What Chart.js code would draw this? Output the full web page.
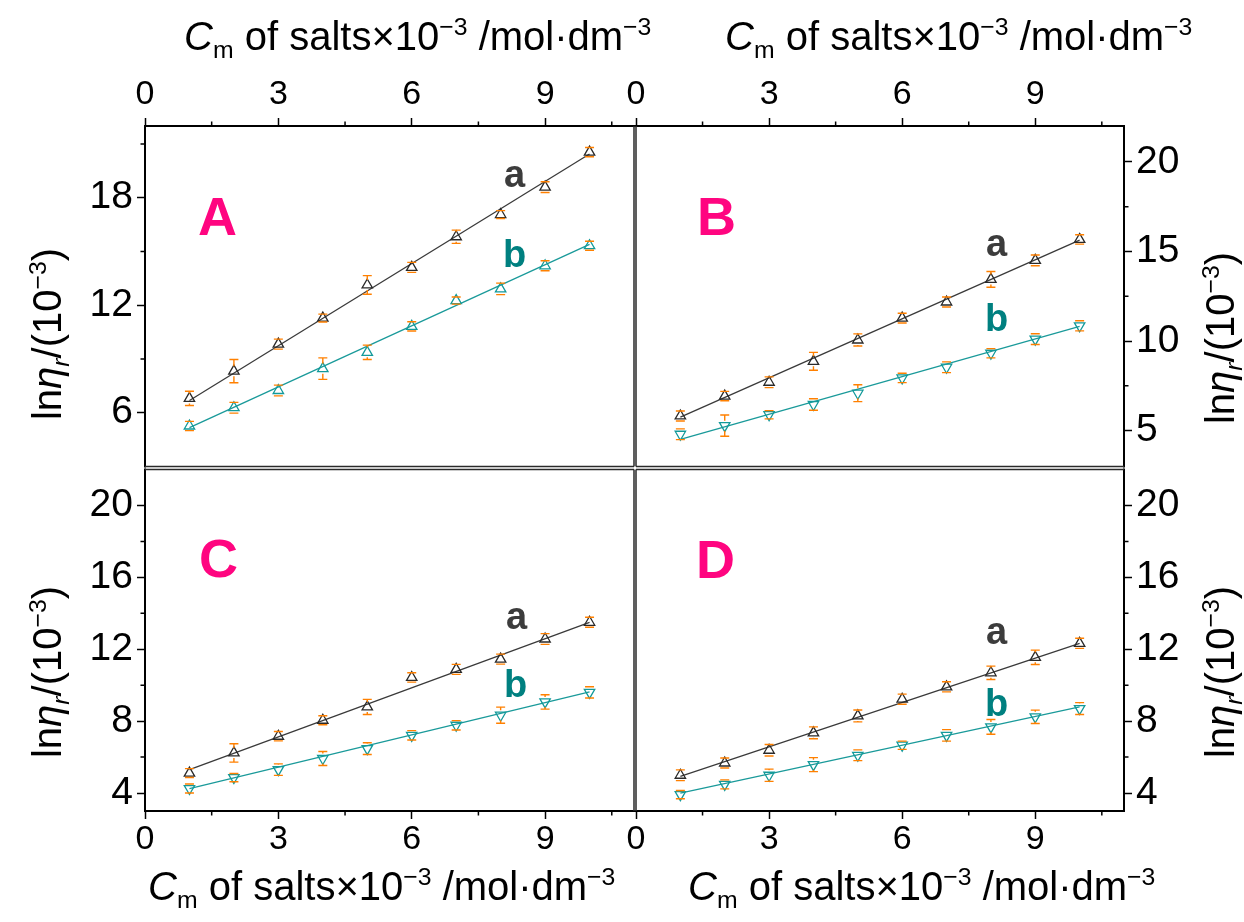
<!DOCTYPE html>
<html>
<head>
<meta charset="utf-8">
<title>ln ηr vs Cm of salts</title>
<script src="https://cdn.jsdelivr.net/npm/chart.js@4.4.1/dist/chart.umd.min.js"></script>
<style>
  body { margin: 0; background: #fff; }
  #wrap { position: relative; width: 1244px; height: 922px; overflow: hidden; font-family: "Liberation Sans", Arial, sans-serif; }
  #wrap canvas { position: absolute; left: 0; top: 0; }
  .txt { position: absolute; white-space: nowrap; line-height: 1; color: #000; }
  .sup { position: relative; font-size: 0.62em; top: -0.62em; }
  .sub { position: relative; font-size: 0.62em; top: 0.32em; }
  .vert { transform: translate(-50%, -50%) rotate(-90deg); }
  .panel { font-weight: bold; color: #ff0580; }
  .sa { font-weight: bold; color: #3c3c3c; }
  .sb { font-weight: bold; color: #008080; }
</style>
</head>
<body>
<div id="wrap"></div>
<script>
const W = 1244, H = 922;
const FONT = '"Liberation Sans", Arial, sans-serif';

// concentration of salts (x 10^-3 mol/dm3)
const conc = [1, 2, 3, 4, 5, 6, 7, 8, 9, 10];
const fitX = [1, 10];

const xTicks = [0, 3, 6, 9];
const xMinor = [1.5, 4.5, 7.5, 10.5];
const yTicksA = [6, 12, 18];
const yMinorA = [9, 15, 21];
const yTicksB = [5, 10, 15, 20];
const yMinorB = [7.5, 12.5, 17.5];
const yTicksCD = [4, 8, 12, 16, 20];
const yMinorCD = [6, 10, 14, 18];

// panel A
const aA = [6.8, 8.32, 9.83, 11.28, 13.13, 14.11, 15.82, 17.06, 18.59, 20.54];
const aAErr = [0.4, 0.65, 0.28, 0.22, 0.52, 0.28, 0.37, 0.22, 0.3, 0.26];
const bA = [5.26, 6.28, 7.24, 8.46, 9.37, 10.82, 12.26, 12.91, 14.2, 15.32];
const bAErr = [0.26, 0.3, 0.3, 0.6, 0.4, 0.26, 0.2, 0.32, 0.28, 0.25];
const fitAa = [6.68, 20.44];
const fitAb = [5.17, 15.39];

// panel B
const aB = [5.82, 6.93, 7.7, 8.87, 10.06, 11.28, 12.18, 13.44, 14.5, 15.67];
const aBErr = [0.28, 0.26, 0.3, 0.5, 0.34, 0.27, 0.28, 0.44, 0.3, 0.26];
const bB = [4.8, 5.28, 5.89, 6.46, 7.09, 7.94, 8.54, 9.32, 10.11, 10.85];
const bBErr = [0.3, 0.59, 0.23, 0.32, 0.47, 0.26, 0.3, 0.26, 0.3, 0.28];
const fitBa = [5.76, 15.63];
const fitBb = [4.52, 10.82];

// panel C
const aC = [5.11, 6.23, 7.16, 8.05, 8.79, 10.43, 10.88, 11.45, 12.57, 13.5];
const aCErr = [0.25, 0.51, 0.26, 0.25, 0.42, 0.26, 0.28, 0.28, 0.3, 0.28];
const bC = [4.25, 4.86, 5.3, 5.92, 6.47, 7.21, 7.77, 8.33, 9.07, 9.6];
const bCErr = [0.25, 0.23, 0.32, 0.39, 0.33, 0.26, 0.26, 0.45, 0.4, 0.31];
const fitCa = [5.3, 13.5];
const fitCb = [4.25, 9.63];

// panel D
const aD = [4.99, 5.67, 6.38, 7.35, 8.29, 9.22, 9.91, 10.69, 11.55, 12.33];
const aDErr = [0.3, 0.28, 0.32, 0.33, 0.33, 0.28, 0.28, 0.37, 0.4, 0.28];
const bD = [3.91, 4.48, 4.99, 5.58, 6.1, 6.66, 7.21, 7.68, 8.24, 8.7];
const bDErr = [0.23, 0.25, 0.34, 0.39, 0.3, 0.23, 0.32, 0.41, 0.37, 0.33];
const fitDa = [4.93, 12.33];
const fitDb = [4.0, 8.79];

const LINE_A = '#3a3a3a', MARK_A = '#2a2a2a';
const LINE_B = '#1a9a9a', MARK_B = '#139a9a';
const ERR = '#ff8000';

const panels = [
  { area: { left: 145, top: 126, right: 634, bottom: 466.5 }, xPos: 'top', yPos: 'left',
    a: aA, aErr: aAErr, b: bA, bErr: bAErr, fa: fitAa, fb: fitAb, bDown: false, yTicks: yTicksA, yMinor: yMinorA },
  { area: { left: 636, top: 126, right: 1124, bottom: 466.5 }, xPos: 'top', yPos: 'right',
    a: aB, aErr: aBErr, b: bB, bErr: bBErr, fa: fitBa, fb: fitBb, bDown: true, yTicks: yTicksB, yMinor: yMinorB },
  { area: { left: 145, top: 469.5, right: 634, bottom: 811 }, xPos: 'bottom', yPos: 'left',
    a: aC, aErr: aCErr, b: bC, bErr: bCErr, fa: fitCa, fb: fitCb, bDown: true, yTicks: yTicksCD, yMinor: yMinorCD },
  { area: { left: 636, top: 469.5, right: 1124, bottom: 811 }, xPos: 'bottom', yPos: 'right',
    a: aD, aErr: aDErr, b: bD, bErr: bDErr, fa: fitDa, fb: fitDb, bDown: true, yTicks: yTicksCD, yMinor: yMinorCD }
];

// error bars, minor ticks and the panel frame
const decoPlugin = {
  id: 'deco',
  afterDatasetsDraw(chart) {
    const ctx = chart.ctx, ys = chart.scales.y;
    const CAP = 4.5, GAP = 5;
    chart.data.datasets.forEach((ds, i) => {
      if (!ds.errors) return;
      const meta = chart.getDatasetMeta(i);
      ctx.save();
      ctx.strokeStyle = ERR;
      ctx.lineWidth = 1.4;
      meta.data.forEach((pt, j) => {
        const v = ds.data[j].y, e = ds.errors[j];
        const top = ys.getPixelForValue(v + e), bot = ys.getPixelForValue(v - e);
        ctx.beginPath();
        ctx.moveTo(pt.x - CAP, top); ctx.lineTo(pt.x + CAP, top);
        ctx.moveTo(pt.x - CAP, bot); ctx.lineTo(pt.x + CAP, bot);
        if (top < pt.y - GAP) { ctx.moveTo(pt.x, top); ctx.lineTo(pt.x, pt.y - GAP); }
        if (bot > pt.y + GAP) { ctx.moveTo(pt.x, pt.y + GAP); ctx.lineTo(pt.x, bot); }
        ctx.stroke();
      });
      ctx.restore();
    });
  },
  afterDraw(chart, args, opts) {
    const ctx = chart.ctx, a = chart.chartArea;
    const xs = chart.scales.x, ys = chart.scales.y;
    const M = 4.5;
    const xEdge = opts.xPos === 'top' ? a.top : a.bottom;
    const yEdge = opts.yPos === 'left' ? a.left : a.right;
    ctx.save();
    ctx.strokeStyle = '#000';
    ctx.lineWidth = 1.5;
    ctx.beginPath();
    opts.xMinor.forEach(v => {
      const px = xs.getPixelForValue(v);
      ctx.moveTo(px, xEdge);
      ctx.lineTo(px, opts.xPos === 'top' ? xEdge - M : xEdge + M);
    });
    opts.yMinor.forEach(v => {
      const py = ys.getPixelForValue(v);
      ctx.moveTo(yEdge, py);
      ctx.lineTo(opts.yPos === 'left' ? yEdge - M : yEdge + M, py);
    });
    ctx.stroke();

    // outer sides (with axes) heavier, inner sides lighter
    const innerX = opts.xPos === 'top' ? a.bottom : a.top;
    const innerY = opts.yPos === 'left' ? a.right : a.left;
    ctx.lineWidth = 2;
    ctx.beginPath();
    ctx.moveTo(a.left - 1, xEdge); ctx.lineTo(a.right + 1, xEdge);
    ctx.moveTo(yEdge, a.top - 1); ctx.lineTo(yEdge, a.bottom + 1);
    ctx.stroke();
    ctx.strokeStyle = '#2a2a2a';
    ctx.lineWidth = 1.5;
    ctx.beginPath();
    ctx.moveTo(a.left, innerX); ctx.lineTo(a.right, innerX);
    ctx.moveTo(innerY, a.top); ctx.lineTo(innerY, a.bottom);
    ctx.stroke();
    ctx.restore();
  }
};

const wrap = document.getElementById('wrap');

function makePanel(p) {
  const canvas = document.createElement('canvas');
  canvas.width = W;
  canvas.height = H;
  wrap.appendChild(canvas);
  const r = p.area;
  const pts = ys => conc.map((x, i) => ({ x: x, y: ys[i] }));
  const fit = ys => fitX.map((x, i) => ({ x: x, y: ys[i] }));
  const axisW = p.yPos === 'left' ? r.left : W - r.right;
  const axisH = p.xPos === 'top' ? r.top : H - r.bottom;

  new Chart(canvas, {
    type: 'scatter',
    data: {
      datasets: [
        { data: fit(p.fa), showLine: true, pointRadius: 0, borderColor: LINE_A, borderWidth: 1.3, order: 3 },
        { data: fit(p.fb), showLine: true, pointRadius: 0, borderColor: LINE_B, borderWidth: 1.3, order: 3 },
        { data: pts(p.a), errors: p.aErr, pointStyle: 'triangle', pointRadius: 6, pointBorderWidth: 1.3,
          borderColor: MARK_A, backgroundColor: 'rgba(0,0,0,0)', order: 1 },
        { data: pts(p.b), errors: p.bErr, pointStyle: 'triangle', pointRotation: p.bDown ? 180 : 0, pointRadius: 6,
          pointBorderWidth: 1.3, borderColor: MARK_B, backgroundColor: 'rgba(0,0,0,0)', order: 1 }
      ]
    },
    options: {
      responsive: false,
      animation: false,
      events: [],
      layout: {
        padding: {
          left: p.yPos === 'left' ? 0 : r.left,
          right: p.yPos === 'right' ? 0 : W - r.right,
          top: p.xPos === 'top' ? 0 : r.top,
          bottom: p.xPos === 'bottom' ? 0 : H - r.bottom
        }
      },
      plugins: {
        legend: { display: false },
        tooltip: { enabled: false },
        deco: { xMinor: xMinor, yMinor: p.yMinor, xPos: p.xPos, yPos: p.yPos }
      },
      scales: {
        x: {
          type: 'linear', position: p.xPos, min: 0, max: 11,
          afterBuildTicks: s => { s.ticks = xTicks.map(v => ({ value: v })); },
          afterFit: s => { s.height = axisH; },
          grid: { drawOnChartArea: false, tickLength: 8, tickWidth: 1.5, tickColor: '#000' },
          border: { display: false },
          ticks: { color: '#000', font: { family: FONT, size: 34, lineHeight: 1 },
                   padding: p.xPos === 'top' ? 6 : 4, maxRotation: 0, autoSkip: false }
        },
        y: {
          type: 'linear', position: p.yPos, min: 3, max: 22,
          afterBuildTicks: s => { s.ticks = p.yTicks.map(v => ({ value: v })); },
          afterFit: s => { s.width = axisW; },
          grid: { drawOnChartArea: false, tickLength: 8, tickWidth: 1.5, tickColor: '#000' },
          border: { display: false },
          ticks: { color: '#000', font: { family: FONT, size: 39, lineHeight: 1 }, padding: 4, autoSkip: false }
        }
      }
    },
    plugins: [decoPlugin]
  });
}

panels.forEach(makePanel);

// text overlay, placed by baseline
function addText(html, cls, left, baseline, size) {
  const d = document.createElement('div');
  d.className = 'txt ' + cls;
  d.style.fontSize = size + 'px';
  d.style.left = left + 'px';
  d.style.top = (baseline - 0.8465 * size) + 'px';
  d.innerHTML = html;
  wrap.appendChild(d);
}

function addVertical(html, cx, cy, size) {
  const d = document.createElement('div');
  d.className = 'txt vert';
  d.style.fontSize = size + 'px';
  d.style.left = cx + 'px';
  d.style.top = cy + 'px';
  d.innerHTML = html;
  wrap.appendChild(d);
}

const xTitle = '<i>C</i><span class="sub">m</span> of salts×10<span class="sup">−3</span> /mol·dm<span class="sup">−3</span>';
const yTitle = 'ln<i>η</i><span class="sub"><i>r</i></span>/(10<span class="sup">−3</span>)';

addText(xTitle, '', 184, 50, 40);
addText(xTitle, '', 725, 50, 40);
addText(xTitle, '', 148, 900, 40);
addText(xTitle, '', 688, 900, 40);

addVertical(yTitle, 47, 334, 40);
addVertical(yTitle, 47, 672, 40);
addVertical(yTitle, 1220, 338, 40);
addVertical(yTitle, 1220, 672, 40);

addText('A', 'panel', 198, 235, 54);
addText('B', 'panel', 697, 235, 54);
addText('C', 'panel', 199, 577, 54);
addText('D', 'panel', 696, 578, 54);

addText('a', 'sa', 504, 187, 38);
addText('b', 'sb', 503, 267, 38);
addText('a', 'sa', 986, 256, 38);
addText('b', 'sb', 985, 331, 38);
addText('a', 'sa', 506, 629, 38);
addText('b', 'sb', 504, 697, 38);
addText('a', 'sa', 986, 644, 38);
addText('b', 'sb', 985, 716, 38);
</script>
</body>
</html>
